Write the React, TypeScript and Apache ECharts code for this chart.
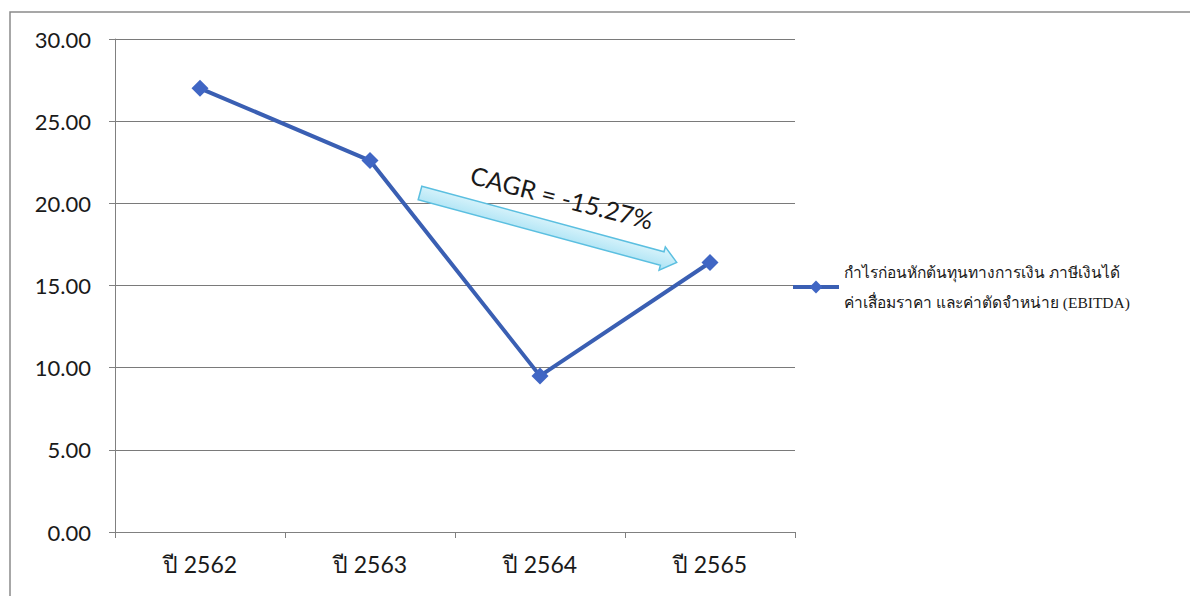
import React, { useEffect, useRef } from "react";
import * as echarts from "echarts";

const categories = ["ปี 2562", "ปี 2563", "ปี 2564", "ปี 2565"];
const ebitda = [27.0, 22.6, 9.5, 16.4];
const seriesName = "กำไรก่อนหักต้นทุนทางการเงิน ภาษีเงินได้ ค่าเสื่อมราคา และค่าตัดจำหน่าย (EBITDA)";
const legendLines = ["กำไรก่อนหักต้นทุนทางการเงิน ภาษีเงินได้", "ค่าเสื่อมราคา และค่าตัดจำหน่าย (EBITDA)"];
const cagrText = "CAGR = -15.27%";

export default function App() {
  const ref = useRef<HTMLDivElement>(null);
  useEffect(() => {
    if (!ref.current) return;
    const chart = echarts.init(ref.current, undefined, { renderer: "svg" });
    const ang = -Math.atan2(69, 255);
    chart.setOption({
      animation: false,
      backgroundColor: "#ffffff",
      grid: { left: 115, right: 395, top: 39, bottom: 64, containLabel: false },
      xAxis: {
        type: "category",
        data: categories,
        boundaryGap: true,
        axisLine: { show: true, lineStyle: { color: "#808080", width: 1 } },
        axisTick: { show: true, length: 6, lineStyle: { color: "#808080" } },
        axisLabel: { color: "#1a1a1a", fontSize: 23, fontFamily: "Lato, 'Noto Sans', sans-serif", margin: 20 },
      },
      yAxis: {
        type: "value",
        min: 0,
        max: 30,
        interval: 5,
        axisLine: { show: true, lineStyle: { color: "#808080", width: 1 } },
        axisTick: { show: true, length: 6, lineStyle: { color: "#808080" } },
        splitLine: { show: true, lineStyle: { color: "#7a7a7a", width: 1 } },
        axisLabel: {
          color: "#1a1a1a",
          fontSize: 22,
          fontFamily: "Lato, 'Noto Sans', sans-serif",
          margin: 24,
          formatter: (v: number) => v.toFixed(2),
        },
      },
      legend: {
        show: true,
        orient: "vertical",
        left: 786,
        top: 252,
        itemWidth: 46,
        itemHeight: 16,
        itemGap: 4,
        data: [{ name: seriesName, lineStyle: { width: 4, color: "#3a5fb3" } }],
        formatter: () => legendLines.join("\n"),
        lineStyle: { width: 4 },
        textStyle: {
          color: "#1a1a1a",
          fontSize: 15.5,
          lineHeight: 30,
          fontFamily: "'Liberation Serif', 'Noto Sans', serif",
        },
      },
      series: [
        {
          name: seriesName,
          type: "line",
          data: ebitda,
          symbol: "diamond",
          symbolSize: 17,
          lineStyle: { color: "#3a5fb3", width: 4 },
          itemStyle: { color: "#4066c4" },
        },
      ],
      graphic: [
        {
          type: "rect",
          shape: { x: 10, y: 12, width: 1300, height: 700 },
          style: { fill: "none", stroke: "#8a8a8a", lineWidth: 1.5 },
          z: -1,
        },
        {
          type: "polygon",
          x: 420,
          y: 193,
          rotation: ang,
          shape: {
            points: [
              [0, -7],
              [251, -7],
              [251, -12],
              [266, 0],
              [251, 12],
              [251, 7],
              [0, 7],
            ],
          },
          style: {
            fill: new echarts.graphic.LinearGradient(0, 0, 0, 1, [
              { offset: 0, color: "#e0f6fc" },
              { offset: 1, color: "#a9e2f4" },
            ]),
            stroke: "#5bbfe0",
            lineWidth: 1.5,
          },
          z: 10,
        },
        {
          type: "text",
          x: 562,
          y: 197,
          rotation: -0.25,
          style: {
            text: cagrText,
            fill: "#1a1a1a",
            fontSize: 25,
            fontFamily: "Lato, 'Noto Sans', sans-serif",
            align: "center",
            verticalAlign: "middle",
          },
          z: 11,
        },
      ],
    });
    return () => chart.dispose();
  }, []);
  return (
    <div
      ref={ref}
      style={{ position: "fixed", left: 0, top: 0, width: 1190, height: 596 }}
    />
  );
}
